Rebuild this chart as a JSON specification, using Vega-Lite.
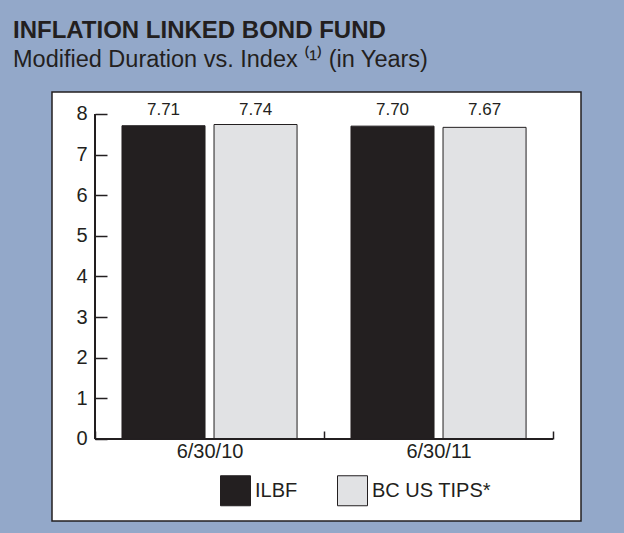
{
  "$schema": "https://vega.github.io/schema/vega-lite/v6.json",
  "autosize": {"type": "none"},
  "width": 529,
  "height": 429,
  "padding": {"top": 92, "left": 52, "right": 43, "bottom": 12},
  "background": "#93a8c9",
  "title": {
    "text": "INFLATION LINKED BOND FUND",
    "subtitle": "Modified Duration vs. Index ⁽¹⁾ (in Years)",
    "anchor": "start",
    "frame": "group",
    "dx": -39,
    "offset": 21,
    "font": "Liberation Sans",
    "fontSize": 24,
    "fontWeight": "bold",
    "color": "#231f20",
    "subtitleFont": "Liberation Sans",
    "subtitleFontSize": 23.5,
    "subtitleColor": "#231f20",
    "subtitlePadding": 5
  },
  "config": {
    "view": {"fill": "white", "stroke": "#231f20", "strokeWidth": 1.5},
    "font": "Liberation Sans"
  },
  "data": {
    "values": [
      {"date": "6/30/10", "series": "ILBF", "value": 7.71},
      {"date": "6/30/10", "series": "BC US TIPS*", "value": 7.74},
      {"date": "6/30/11", "series": "ILBF", "value": 7.70},
      {"date": "6/30/11", "series": "BC US TIPS*", "value": 7.67}
    ]
  },
  "encoding": {
    "x": {
      "field": "date",
      "type": "nominal",
      "sort": ["6/30/10", "6/30/11"],
      "scale": {"paddingInner": 0, "paddingOuter": 0.155, "align": 0.606},
      "axis": {
        "title": null,
        "orient": "bottom",
        "offset": -82,
        "domain": false,
        "tickBand": "extent",
        "tickSize": -8,
        "tickColor": "#231f20",
        "tickWidth": 1.5,
        "labelAngle": 0,
        "labelFontSize": 20,
        "labelColor": "#231f20",
        "labelPadding": 10
      }
    },
    "xOffset": {
      "field": "series",
      "type": "nominal",
      "sort": ["ILBF", "BC US TIPS*"],
      "scale": {"paddingInner": 0.0978, "paddingOuter": 0.293}
    }
  },
  "layer": [
    {
      "mark": {"type": "bar", "stroke": "#231f20", "strokeWidth": 1},
      "encoding": {
        "y": {
          "field": "value",
          "type": "quantitative",
          "scale": {"domain": [-2.02, 8.54], "nice": false, "zero": false},
          "axis": {
            "title": null,
            "values": [0, 1, 2, 3, 4, 5, 6, 7, 8],
            "offset": -43,
            "domain": false,
            "grid": false,
            "tickSize": -12,
            "tickColor": "#231f20",
            "tickWidth": 1.5,
            "labelFontSize": 20,
            "labelColor": "#231f20",
            "labelPadding": 20
          }
        },
        "y2": {"datum": 0},
        "color": {
          "field": "series",
          "type": "nominal",
          "sort": ["ILBF", "BC US TIPS*"],
          "scale": {"domain": ["ILBF", "BC US TIPS*"], "range": ["#231f20", "#e1e2e4"]},
          "legend": {
            "title": null,
            "orient": "none",
            "legendX": 168,
            "legendY": 383,
            "direction": "horizontal",
            "symbolType": "square",
            "symbolSize": 900,
            "symbolStrokeColor": "#231f20",
            "symbolStrokeWidth": 1,
            "symbolOpacity": 1,
            "labelFontSize": 20,
            "labelColor": "#231f20",
            "labelOffset": 4,
            "columnPadding": 37,
            "padding": 0
          }
        }
      }
    },
    {
      "mark": {"type": "text", "fontSize": 17, "color": "#231f20", "baseline": "alphabetic", "dy": 1},
      "encoding": {
        "y": {"datum": 8},
        "text": {"field": "value", "type": "quantitative", "format": ".2f"}
      }
    },
    {
      "mark": {"type": "rule", "color": "#231f20", "strokeWidth": 1.5},
      "encoding": {
        "x": {"datum": "6/30/10", "bandPosition": 0},
        "xOffset": {"value": 0},
        "y": {"datum": 0},
        "y2": {"datum": 8}
      }
    },
    {
      "mark": {"type": "rule", "color": "#231f20", "strokeWidth": 1.5},
      "encoding": {
        "x": {"datum": "6/30/10", "bandPosition": 0},
        "x2": {"datum": "6/30/11", "bandPosition": 1},
        "xOffset": {"value": 0},
        "y": {"datum": 0}
      }
    }
  ]
}
